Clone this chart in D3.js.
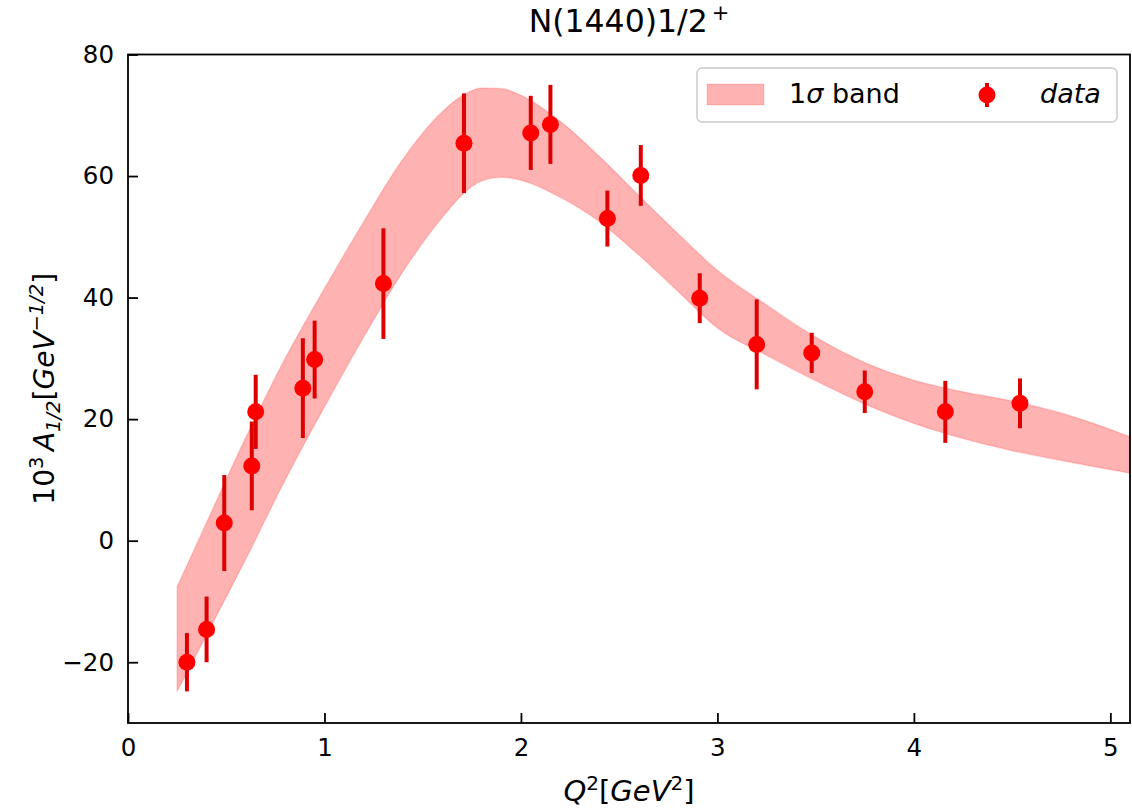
<!DOCTYPE html>
<html><head><meta charset="utf-8">
<script src="https://cdn.jsdelivr.net/npm/d3@7"></script>
<style>
body{margin:0;background:#fff;}
text{font-family:"DejaVu Sans",sans-serif;fill:#000;}
</style></head>
<body><svg id="c" width="1132" height="810"></svg>
<script>
// ---- data ----
const q2  = [0.30, 0.40, 0.49, 0.63, 0.65, 0.89, 0.95, 1.30, 1.71, 2.05, 2.15, 2.44, 2.61, 2.91, 3.20, 3.48, 3.75, 4.16, 4.54];
const a12 = [-20.0, -14.6, 2.9, 12.3, 21.2, 25.1, 29.8, 42.3, 65.4, 67.1, 68.5, 53.0, 60.1, 39.9, 32.3, 30.9, 24.5, 21.2, 22.6];
const err = [4.8, 5.4, 7.9, 7.3, 6.1, 8.2, 6.4, 9.1, 8.2, 6.1, 6.5, 4.6, 5.0, 4.1, 7.4, 3.3, 3.5, 5.1, 4.1];

const bandQ2    = [0.25, 0.4, 0.6, 0.8, 1.0, 1.2, 1.4, 1.6, 1.7, 1.8, 1.9, 2.0, 2.2, 2.4, 2.6, 2.8, 3.0, 3.25, 3.5, 3.75, 4.0, 4.25, 4.5, 4.75, 5.1];
const bandUpper = [-7.6, 3.0, 17.0, 30.0, 41.5, 52.5, 62.8, 70.6, 73.2, 74.5, 74.4, 73.3, 69.0, 63.2, 56.8, 50.5, 44.5, 38.8, 33.5, 29.3, 26.4, 24.5, 23.0, 21.0, 17.1];
const bandLower = [-24.8, -15.5, -3.0, 10.0, 22.0, 33.5, 44.3, 53.2, 56.9, 59.2, 59.8, 59.3, 56.5, 52.5, 47.0, 41.0, 35.0, 30.5, 26.3, 22.5, 19.3, 16.8, 14.8, 13.2, 11.1];

const xTicks = [0, 1, 2, 3, 4, 5];
const yTicks = [-20, 0, 20, 40, 60, 80];

const titleMain = "N(1440)1/2";
const titleSup = "+";
const legendBand = "band";
const legendData = "data";

// ---- layout ----
const L = 128, R = 1130, T = 54.5, B = 723;
const svg = d3.select("#c");
const x = d3.scaleLinear().domain([0, 5.1]).range([L, R]);
const y = d3.scaleLinear().domain([-30, 80]).range([B, T]);

svg.append("clipPath").attr("id","clip").append("rect")
  .attr("x", L).attr("y", T).attr("width", R-L).attr("height", B-T);

const bandData = bandQ2.map((q,i)=>({q, lo: bandLower[i], hi: bandUpper[i]}));
const area = d3.area().x(d=>x(d.q)).y0(d=>y(d.lo)).y1(d=>y(d.hi)).curve(d3.curveMonotoneX);
svg.append("path").datum(bandData).attr("clip-path","url(#clip)")
  .attr("d", area).attr("fill","rgb(255,0,0)").attr("fill-opacity",0.3)
  .attr("stroke","rgb(255,0,0)").attr("stroke-opacity",0.15).attr("stroke-width",1.5);

// data points
const pts = q2.map((q,i)=>({q, v:a12[i], e:err[i]}));
const g = svg.append("g");
g.selectAll("line.eb").data(pts).enter().append("line")
  .attr("x1",d=>x(d.q)).attr("x2",d=>x(d.q))
  .attr("y1",d=>y(d.v+d.e)).attr("y2",d=>y(d.v-d.e))
  .attr("stroke","#dd0000").attr("stroke-width",4);
g.selectAll("circle").data(pts).enter().append("circle")
  .attr("cx",d=>x(d.q)).attr("cy",d=>y(d.v)).attr("r",8.5).attr("fill","#ff0000");

// axes frame
svg.append("rect").attr("x",L).attr("y",T).attr("width",R-L).attr("height",B-T)
  .attr("fill","none").attr("stroke","#000").attr("stroke-width",1.8);

const xAxis = d3.axisBottom(x).tickValues(xTicks).tickSize(-10).tickPadding(16).tickFormat(d3.format("d"));
const xa = svg.append("g").attr("transform",`translate(0,${B})`).call(xAxis);
const yAxis = d3.axisLeft(y).tickValues(yTicks).tickSize(-10).tickPadding(14)
  .tickFormat(d=> d<0 ? "\u2212"+Math.abs(d) : String(d));
const ya = svg.append("g").attr("transform",`translate(${L},0)`).call(yAxis);
[xa, ya].forEach(a=>{
  a.select(".domain").remove();
  a.selectAll(".tick line").attr("stroke","#000").attr("stroke-width",1.8);
  a.selectAll(".tick text").attr("font-size",24.5).attr("font-family","DejaVu Sans").attr("fill","#000");
});

// title
const tt = svg.append("text").attr("x",(L+R)/2).attr("y",32).attr("text-anchor","middle").attr("font-size",31.5);
tt.append("tspan").text(titleMain);
tt.append("tspan").attr("dy",-12).attr("dx",4).attr("font-size",21).text(titleSup);

// x label
const xl = svg.append("text").attr("x",(L+R)/2).attr("y",801).attr("text-anchor","middle").attr("font-size",29);
xl.append("tspan").attr("font-style","italic").text("Q");
xl.append("tspan").attr("dy",-11).attr("font-size",20).text("2");
xl.append("tspan").attr("dy",11).text("[");
xl.append("tspan").attr("font-style","italic").text("GeV");
xl.append("tspan").attr("dy",-11).attr("font-size",20).text("2");
xl.append("tspan").attr("dy",11).text("]");

// y label
const yl = svg.append("text").attr("transform",`translate(54,${(T+B)/2}) rotate(-90)`)
  .attr("text-anchor","middle").attr("font-size",28);
yl.append("tspan").text("10");
yl.append("tspan").attr("dy",-11).attr("font-size",19.5).text("3");
yl.append("tspan").attr("dy",11).text("\u2009");
yl.append("tspan").attr("font-style","italic").text("A");
yl.append("tspan").attr("dy",6).attr("font-size",19.5).attr("font-style","italic").text("1/2");
yl.append("tspan").attr("dy",-6).text("[");
yl.append("tspan").attr("font-style","italic").text("GeV");
yl.append("tspan").attr("dy",-11).attr("font-size",19.5).attr("font-style","italic").text("\u22121/2");
yl.append("tspan").attr("dy",11).text("]");

// legend
const lg = svg.append("g");
lg.append("rect").attr("x",697).attr("y",68).attr("width",420).attr("height",54).attr("rx",5)
  .attr("fill","#fff").attr("fill-opacity",0.8).attr("stroke","#cccccc").attr("stroke-width",1.5);
lg.append("rect").attr("x",707).attr("y",84).attr("width",57).attr("height",21)
  .attr("fill","rgb(255,0,0)").attr("fill-opacity",0.3).attr("stroke","rgb(255,0,0)").attr("stroke-opacity",0.15);
const lt = lg.append("text").attr("x",789).attr("y",103).attr("font-size",27);
lt.append("tspan").text("1");
lt.append("tspan").attr("font-style","italic").text("\u03C3");
lt.append("tspan").text(" "+legendBand);
lg.append("line").attr("x1",987).attr("x2",987).attr("y1",83).attr("y2",107)
  .attr("stroke","#dd0000").attr("stroke-width",4);
lg.append("circle").attr("cx",987).attr("cy",95).attr("r",8.5).attr("fill","#ff0000");
lg.append("text").attr("x",1040).attr("y",103).attr("font-size",27).attr("font-style","italic").text(legendData);
</script></body></html>
